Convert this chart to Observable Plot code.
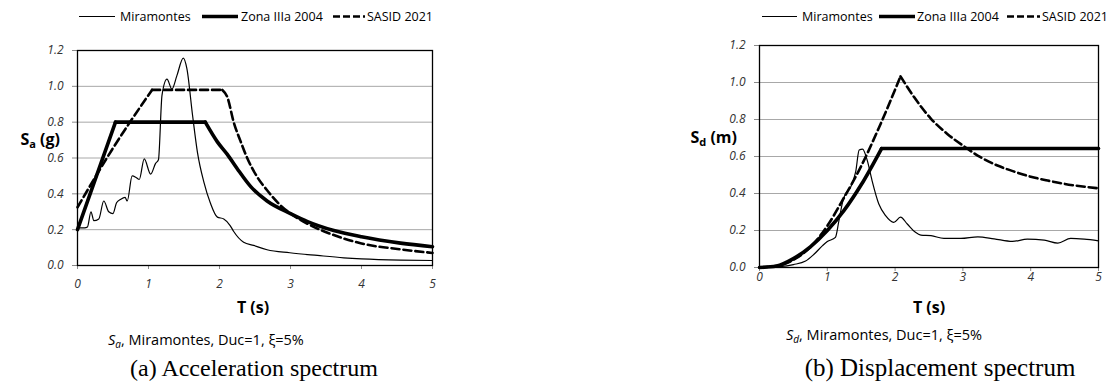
<!DOCTYPE html>
<html><head><meta charset="utf-8">
<script src="https://cdn.jsdelivr.net/npm/d3@7"></script>
<script src="https://cdn.jsdelivr.net/npm/@observablehq/plot@0.6"></script>
<style>
body{margin:0;background:#fff;}
#root{position:relative;width:1109px;height:384px;overflow:hidden;font-family:"Open Sans",sans-serif;color:#000;}
.abs{position:absolute;white-space:nowrap;line-height:1;}
.ylab{font-weight:700;font-size:16px;}
.ylab sub{font-size:11px;vertical-align:-3px;}
.xlab{font-weight:700;font-size:16px;transform:translate(-50%,-50%);}
.cap{font-size:14.5px;transform:translateY(-50%);}
.cap sub{font-size:10px;vertical-align:-3px;}
.sub{font-family:"Liberation Serif","Times New Roman",serif;font-size:24px;transform:translate(-50%,-50%);}
</style></head><body><div id="root"></div>
<script>
// ---- Data: (a) acceleration spectrum Sa (g) ----
const saMiraT = [0,0.1,0.14,0.19,0.23,0.30,0.37,0.44,0.50,0.55,0.61,0.67,0.70,0.77,0.83,0.87,0.94,1.03,1.10,1.14,1.19,1.26,1.33,1.40,1.49,1.54,1.62,1.69,1.78,1.87,1.97,2.06,2.15,2.20,2.34,2.48,2.67,2.99,3.38,3.75,4.0,4.55,5.0];
const saMira  = [0.21,0.21,0.215,0.30,0.25,0.26,0.36,0.30,0.29,0.35,0.37,0.38,0.36,0.50,0.49,0.48,0.595,0.51,0.57,0.59,0.95,1.04,0.985,1.06,1.157,1.10,0.84,0.63,0.465,0.35,0.27,0.26,0.223,0.19,0.13,0.112,0.088,0.071,0.056,0.043,0.037,0.030,0.028];
const saZonaT = [0,0.535,1.8,1.97,2.11,2.25,2.44,2.67,3.0,3.24,3.61,4.0,4.55,5];
const saZona  = [0.2,0.8,0.8,0.69,0.62,0.54,0.44,0.36,0.29,0.245,0.195,0.16,0.125,0.105];
const saSasidT = [0,0.5,1.05,2.04,2.11,2.20,2.30,2.39,2.53,2.67,2.86,3.0,3.24,3.61,4.0,4.55,5];
const saSasid  = [0.325,0.655,0.98,0.98,0.94,0.80,0.69,0.60,0.495,0.42,0.335,0.29,0.233,0.17,0.123,0.09,0.07];

// ---- Data: (b) displacement spectrum Sd (m) ----
const sdMiraT = [0,0.3,0.5,0.68,0.8,0.93,1.0,1.12,1.17,1.23,1.27,1.34,1.42,1.47,1.52,1.59,1.66,1.76,1.86,1.98,2.08,2.18,2.30,2.38,2.53,2.72,2.97,3.22,3.46,3.73,3.95,4.20,4.40,4.59,4.79,5.0];
const sdMira  = [0,0.005,0.016,0.035,0.07,0.118,0.14,0.163,0.25,0.36,0.40,0.43,0.52,0.635,0.64,0.578,0.47,0.343,0.28,0.244,0.272,0.235,0.19,0.175,0.172,0.157,0.157,0.166,0.155,0.141,0.153,0.148,0.132,0.157,0.153,0.144];
const sdZonaT = [0,0.25,0.5,0.75,1.0,1.25,1.5,1.8,5];
const sdZona  = [0,0.008,0.048,0.112,0.2,0.31,0.447,0.643,0.643];
const sdSasidT = [0,0.25,0.5,0.75,1.0,1.25,1.5,1.75,2.08,2.28,2.53,2.77,3.02,3.26,3.51,3.76,4.0,4.25,4.5,5];
const sdSasid  = [0,0.008,0.041,0.11,0.225,0.38,0.548,0.746,1.033,0.921,0.804,0.722,0.654,0.596,0.551,0.518,0.491,0.47,0.452,0.428];

const xTicks = [0,1,2,3,4,5];
const yTicks = [0,0.2,0.4,0.6,0.8,1.0,1.2];
const gridTicks = [0.2,0.4,0.6,0.8,1.0];
const seriesNames = ["Miramontes","Zona IIIa 2004","SASID 2021"];

// split a series into segments at corner indices (shared corner point)
function rows(T, V, corners) {
  const out = []; let s = 0;
  T.forEach((t, i) => {
    out.push({T: t, v: V[i], s});
    if (corners.includes(i)) { s++; out.push({T: t, v: V[i], s}); }
  });
  return out;
}

function chart(o) {
  return Plot.plot({
    width: o.width, height: 300,
    marginLeft: o.ml, marginRight: o.mr, marginTop: o.mt, marginBottom: o.mb,
    style: {fontFamily: "Open Sans", fontSize: "12px", background: "transparent", overflow: "visible"},
    x: {domain: [0, 5]},
    y: {domain: [0, 1.2]},
    marks: [
      Plot.gridY(gridTicks, {stroke: "#a8a8a8", strokeOpacity: 1, strokeWidth: 1}),
      Plot.axisY({ticks: yTicks, tickFormat: d3.format(".1f"), tickSize: 5, tickPadding: 9, label: null,
        fontStyle: "italic", stroke: "#8a8a8a", fill: "#333"}),
      Plot.axisX({ticks: xTicks, tickFormat: d => String(d), tickSize: 4, tickPadding: o.xpad, label: null,
        fontStyle: "italic", stroke: "#8a8a8a", fill: "#333"}),
      Plot.line(o.mira, {x: "T", y: "v", z: "s", stroke: "black", strokeWidth: 1.2, curve: "monotone-x"}),
      Plot.line(o.zona, {x: "T", y: "v", z: "s", stroke: "black", strokeWidth: 3.6, curve: "monotone-x", strokeLinecap: "round"}),
      Plot.line(o.sasid, {x: "T", y: "v", z: "s", stroke: "black", strokeWidth: 2.6, strokeDasharray: "8,4", curve: "monotone-x"}),
      Plot.frame({stroke: "black", strokeWidth: 1.3})
    ]
  });
}

const root = document.getElementById("root");
function place(el, left, top) {
  el.style.position = "absolute"; el.style.left = left + "px"; el.style.top = top + "px"; root.appendChild(el);
}

const pa = chart({width: 460, ml: 77, mr: 28, mt: 50, mb: 35, xpad: 10,
  mira: rows(saMiraT, saMira, []), zona: rows(saZonaT, saZona, [1, 2]), sasid: rows(saSasidT, saSasid, [2, 3])});
place(pa, 0, 0);
const pb = chart({width: 429, ml: 79, mr: 11, mt: 45, mb: 33, xpad: 1,
  mira: rows(sdMiraT, sdMira, []), zona: rows(sdZonaT, sdZona, [7]), sasid: rows(sdSasidT, sdSasid, [8])});
place(pb, 680, 0);

// legends
const leg = d3.select(root).append("svg").attr("width", 1109).attr("height", 30)
  .style("position", "absolute").style("left", 0).style("top", 0);
function legend(items) {
  items.forEach(it => {
    leg.append("line").attr("x1", it.x1).attr("x2", it.x2).attr("y1", 16.5).attr("y2", 16.5)
      .attr("stroke", "black").attr("stroke-width", it.w).attr("stroke-dasharray", it.dash || null);
    leg.append("text").attr("x", it.tx).attr("y", 16.5).attr("dy", "0.35em")
      .attr("font-family", "Open Sans").attr("font-size", 12.5).text(it.name);
  });
}
legend([
  {x1: 79, x2: 115, w: 1.2, tx: 120, name: seriesNames[0]},
  {x1: 202, x2: 238, w: 3.6, tx: 241, name: seriesNames[1]},
  {x1: 333, x2: 365, w: 2.6, dash: "7,3", tx: 367, name: seriesNames[2]}
]);
legend([
  {x1: 762, x2: 797, w: 1.2, tx: 802, name: seriesNames[0]},
  {x1: 879, x2: 915, w: 3.6, tx: 917, name: seriesNames[1]},
  {x1: 1007, x2: 1040, w: 2.6, dash: "7,3", tx: 1042, name: seriesNames[2]}
]);

function html(cls, inner, css) {
  const d = document.createElement("div");
  d.className = "abs " + cls; d.innerHTML = inner;
  Object.assign(d.style, css); root.appendChild(d); return d;
}
html("ylab", "S<sub>a</sub> (g)", {right: (1109 - 60) + "px", top: "131px"});
html("ylab", "S<sub>d</sub> (m)", {right: (1109 - 737) + "px", top: "129px"});
html("xlab", "T (s)", {left: "253px", top: "307px"});
html("xlab", "T (s)", {left: "929px", top: "307px"});
html("cap", "<i>S<sub>a</sub></i>, Miramontes, Duc=1, ξ=5%", {left: "108px", top: "341px"});
html("cap", "<i>S<sub>d</sub></i>, Miramontes, Duc=1, ξ=5%", {left: "786px", top: "336px"});
html("sub", "(a) Acceleration spectrum", {left: "254px", top: "368px"});
html("sub", "(b) Displacement spectrum", {left: "940px", top: "367px", fontSize: "25px"});
</script></body></html>
